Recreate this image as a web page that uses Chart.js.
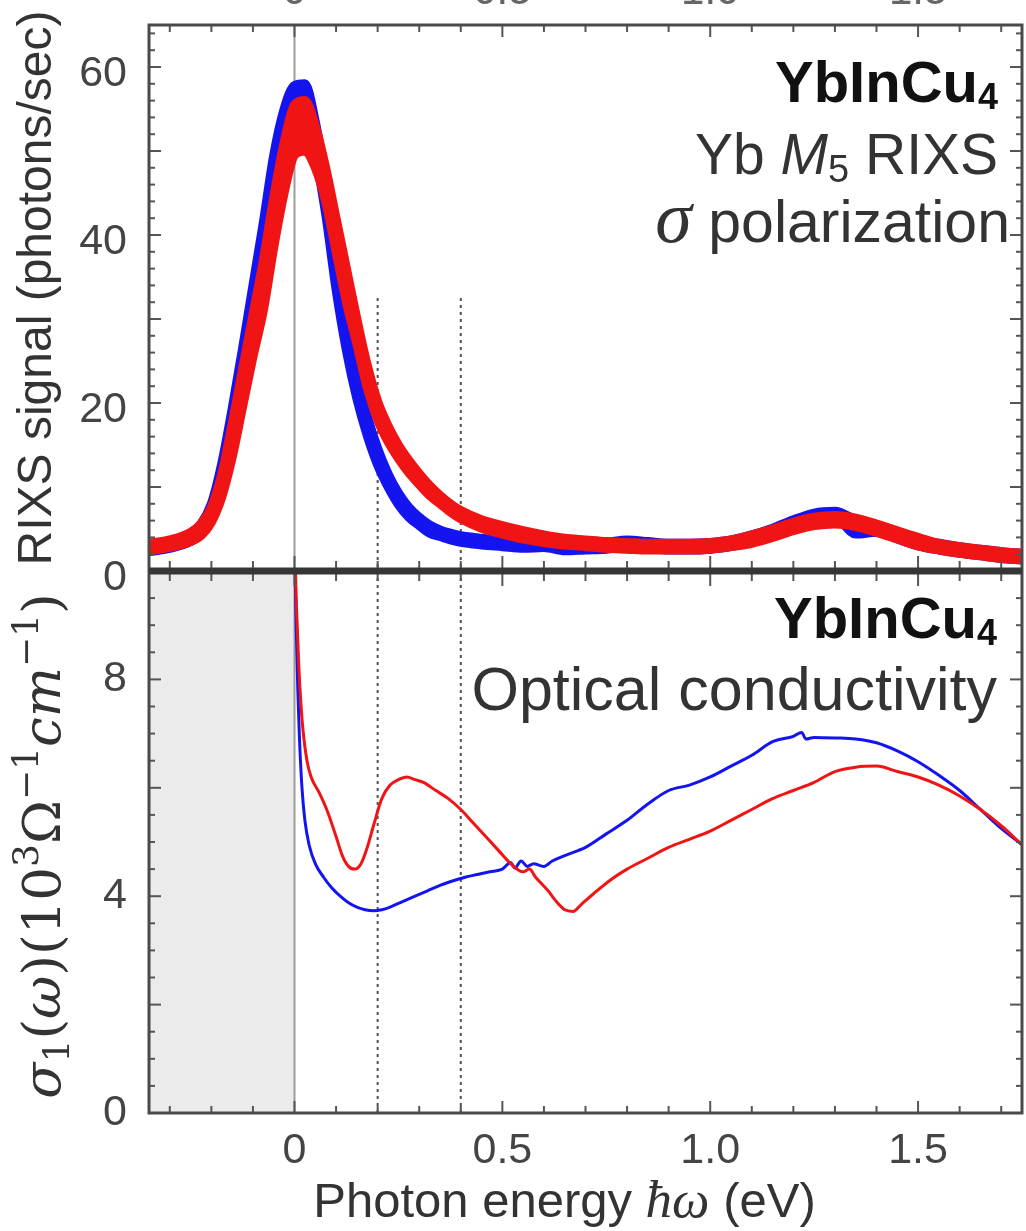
<!DOCTYPE html>
<html>
<head>
<meta charset="utf-8">
<script src="https://cdn.jsdelivr.net/npm/chart.js@4.4.1/dist/chart.umd.min.js"></script>
<style>
  html, body { margin: 0; padding: 0; background: #ffffff; }
  canvas { display: block; }
</style>
</head>
<body>
<canvas id="chart" width="1026" height="1231"></canvas>
<script>
// ---------- data ----------
// Photon-energy grid (eV) for the Yb M5 RIXS traces
const rixsEnergy = [
  -0.35, -0.30, -0.25, -0.225, -0.20, -0.175, -0.15, -0.125, -0.10, -0.075,
  -0.05, -0.025, 0.00, 0.025, 0.05, 0.075, 0.10, 0.125, 0.15, 0.175,
  0.20, 0.225, 0.25, 0.275, 0.30, 0.325, 0.35, 0.375, 0.40, 0.45,
  0.50, 0.55, 0.60, 0.65, 0.70, 0.75, 0.80, 0.85, 0.90, 0.95,
  1.00, 1.05, 1.10, 1.15, 1.20, 1.25, 1.30, 1.35, 1.40, 1.45,
  1.50, 1.55, 1.60, 1.65, 1.70, 1.75
];
// RIXS signal (photons/sec), three scans per temperature
const rixsRedUpper = [
  3.3, 3.7, 4.6, 5.6, 7.6, 11.5, 17.5, 24.0, 30.5, 37.0,
  44.5, 51.0, 55.5, 56.0, 53.0, 48.0, 42.0, 36.0, 30.0, 24.5,
  20.2, 17.3, 15.0, 13.2, 11.6, 10.2, 9.0, 8.0, 7.2, 6.1,
  5.4, 4.8, 4.3, 3.9, 3.7, 3.5, 3.4, 3.3, 3.3, 3.3,
  3.4, 3.7, 4.3, 5.0, 5.8, 6.4, 6.6, 6.3, 5.6, 4.8,
  4.0, 3.3, 2.9, 2.6, 2.3, 2.1
];
const rixsRedMiddle = [
  2.8, 3.2, 4.0, 4.8, 6.6, 10.0, 15.5, 22.0, 28.0, 34.0,
  41.5, 48.0, 52.5, 53.0, 50.5, 46.0, 40.0, 34.0, 28.5, 23.0,
  19.0, 16.3, 14.2, 12.4, 10.9, 9.6, 8.5, 7.5, 6.7, 5.6,
  4.9, 4.3, 3.8, 3.5, 3.3, 3.1, 3.0, 2.9, 2.9, 2.9,
  3.0, 3.3, 3.8, 4.5, 5.3, 5.9, 6.1, 5.8, 5.1, 4.3,
  3.5, 2.9, 2.5, 2.2, 1.9, 1.7
];
const rixsRedLower = [
  2.4, 2.8, 3.5, 4.2, 5.8, 8.8, 13.5, 19.5, 25.5, 31.0,
  38.5, 45.0, 49.5, 50.0, 48.0, 44.0, 38.0, 32.0, 27.0, 21.8,
  18.0, 15.4, 13.4, 11.7, 10.3, 9.0, 8.0, 7.0, 6.2, 5.1,
  4.4, 3.8, 3.4, 3.1, 2.9, 2.7, 2.6, 2.5, 2.5, 2.5,
  2.6, 2.9, 3.3, 4.0, 4.8, 5.4, 5.6, 5.3, 4.6, 3.8,
  3.0, 2.5, 2.1, 1.8, 1.5, 1.3
];
const rixsBlueUpper = [
  3.1, 3.5, 4.5, 5.6, 8.0, 12.8, 19.3, 26.5, 34.0, 41.5,
  49.5, 55.0, 57.8, 58.0, 53.5, 46.5, 37.5, 29.8, 23.5, 18.5,
  14.6, 11.6, 9.3, 7.6, 6.4, 5.5, 4.9, 4.5, 4.2, 3.9,
  3.7, 3.5, 3.6, 3.4, 3.3, 3.4, 3.7, 3.5, 3.3, 3.3,
  3.4, 3.7, 4.3, 5.1, 6.1, 6.9, 7.1, 6.1, 5.4, 4.6,
  3.8, 3.3, 2.9, 2.6, 2.3, 2.1
];
const rixsBlueMiddle = [
  2.7, 3.1, 4.0, 5.0, 7.2, 11.5, 17.5, 24.5, 32.0, 39.0,
  47.0, 53.0, 56.0, 56.0, 51.5, 44.5, 35.5, 28.0, 22.0, 17.3,
  13.6, 10.8, 8.6, 7.0, 5.9, 5.0, 4.5, 4.1, 3.8, 3.5,
  3.3, 3.1, 3.2, 2.9, 2.9, 3.0, 3.2, 3.1, 2.9, 2.9,
  3.0, 3.3, 3.9, 4.7, 5.6, 6.4, 6.7, 5.6, 5.0, 4.2,
  3.4, 2.9, 2.5, 2.2, 1.9, 1.7
];
const rixsBlueLower = [
  2.3, 2.7, 3.5, 4.4, 6.4, 10.2, 15.7, 22.5, 30.0, 36.5,
  44.5, 51.0, 54.0, 54.0, 49.5, 42.5, 33.5, 26.2, 20.5, 16.1,
  12.6, 10.0, 7.9, 6.4, 5.4, 4.5, 4.1, 3.7, 3.4, 3.1,
  2.9, 2.7, 2.8, 2.4, 2.5, 2.6, 2.8, 2.7, 2.5, 2.5,
  2.6, 2.9, 3.5, 4.3, 5.1, 5.9, 6.3, 4.4, 4.6, 3.8,
  3.0, 2.5, 2.1, 1.8, 1.5, 1.3
];

// Optical conductivity sigma_1 (10^3 Ohm^-1 cm^-1)
const sigmaEnergyRed = [
  0.000, 0.005, 0.010, 0.015, 0.020, 0.030, 0.040, 0.060, 0.080, 0.100,
  0.115, 0.130, 0.145, 0.160, 0.175, 0.190, 0.210, 0.230, 0.250, 0.270,
  0.290, 0.310, 0.340, 0.370, 0.400, 0.430, 0.460, 0.490, 0.520, 0.550,
  0.565, 0.580, 0.610, 0.630, 0.650, 0.670, 0.690, 0.720, 0.760, 0.800,
  0.850, 0.900, 0.950, 1.000, 1.050, 1.100, 1.150, 1.200, 1.250, 1.300,
  1.350, 1.400, 1.450, 1.500, 1.550, 1.600, 1.650, 1.700, 1.750
];
const sigmaRed = [
  10.6, 9.3, 8.3, 7.6, 7.1, 6.5, 6.2, 5.9, 5.55, 5.1,
  4.75, 4.55, 4.5, 4.6, 4.9, 5.3, 5.8, 6.05, 6.15, 6.2,
  6.15, 6.1, 5.95, 5.8, 5.6, 5.35, 5.1, 4.85, 4.6, 4.45,
  4.5, 4.35, 4.1, 3.9, 3.75, 3.72, 3.85, 4.05, 4.3, 4.5,
  4.7, 4.9, 5.05, 5.2, 5.4, 5.6, 5.8, 5.95, 6.1, 6.3,
  6.38, 6.4, 6.3, 6.2, 6.05, 5.85, 5.6, 5.3, 4.95
];
const sigmaEnergyBlue = [
  0.000, 0.004, 0.008, 0.012, 0.018, 0.025, 0.035, 0.050, 0.070, 0.090,
  0.110, 0.130, 0.150, 0.170, 0.190, 0.210, 0.230, 0.260, 0.290, 0.320,
  0.350, 0.380, 0.410, 0.440, 0.470, 0.500, 0.520, 0.530, 0.545, 0.560,
  0.575, 0.600, 0.620, 0.650, 0.700, 0.750, 0.800, 0.850, 0.900, 0.950,
  1.000, 1.050, 1.100, 1.150, 1.200, 1.220, 1.230, 1.250, 1.300, 1.350,
  1.400, 1.450, 1.500, 1.550, 1.600, 1.650, 1.700, 1.750
];
const sigmaBlue = [
  10.6, 9.0, 7.8, 6.9, 6.0, 5.4, 4.95, 4.6, 4.35, 4.15,
  4.0, 3.88, 3.8, 3.75, 3.73, 3.75, 3.8, 3.9, 4.0, 4.1,
  4.2, 4.28, 4.35, 4.4, 4.45, 4.5, 4.62, 4.52, 4.65, 4.55,
  4.6, 4.55, 4.65, 4.75, 4.9, 5.15, 5.4, 5.7, 5.95, 6.05,
  6.2, 6.4, 6.6, 6.85, 6.95, 7.02, 6.9, 6.93, 6.92, 6.9,
  6.83, 6.68, 6.48, 6.23, 5.95, 5.6, 5.25, 4.95
];

// Tick labels
const energyTicks = [0, 0.5, 1.0, 1.5];
const energyTickLabels = ['0', '0.5', '1.0', '1.5'];
const rixsTicks = [0, 20, 40, 60];
const sigmaTicks = [0, 4, 8];
// Energies of the dotted guide lines and the RIXS level where they start
const guideEnergies = [0.2, 0.4];
const guideTop = 32.5;

// ---------- styling ----------
const BLUE = '#1414f0';
const RED = '#f01414';
const SANS = '"Liberation Sans", "Helvetica Neue", Arial, sans-serif';
const SERIF = '"Liberation Serif", "Times New Roman", serif';
const MATH = '"DejaVu Serif", "Liberation Serif", serif';
const FRAME = '#4a4a4a';

const pts = (xs, ys) => xs.map((e, i) => ({ x: e, y: ys[i] }));

function drawRuns(ctx, runs, x, y, align) {
  let w = 0;
  for (const r of runs) { ctx.font = r.font; w += ctx.measureText(r.text).width; }
  let cx = align === 'right' ? x - w : align === 'center' ? x - w / 2 : x;
  ctx.textAlign = 'left';
  for (const r of runs) {
    ctx.font = r.font;
    ctx.fillStyle = r.color;
    ctx.fillText(r.text, cx, y + (r.dy || 0));
    cx += ctx.measureText(r.text).width;
  }
}

function seg(ctx, x1, y1, x2, y2) {
  ctx.beginPath(); ctx.moveTo(x1, y1); ctx.lineTo(x2, y2); ctx.stroke();
}

const panelPlugin = {
  id: 'panelDecor',
  beforeDatasetsDraw(chart) {
    const { ctx, chartArea: a } = chart;
    const { x, yRixs, ySigma } = chart.scales;
    const x0 = x.getPixelForValue(0);
    ctx.save();
    // shaded region below zero energy in the conductivity panel
    ctx.fillStyle = '#ebebeb';
    ctx.fillRect(a.left, ySigma.top, x0 - a.left, ySigma.bottom - ySigma.top);
    // zero-energy line through both panels
    ctx.strokeStyle = '#9c9c9c';
    ctx.lineWidth = 2;
    seg(ctx, x0, a.top, x0, a.bottom);
    // dotted guides
    ctx.strokeStyle = '#505050';
    ctx.setLineDash([3, 4]);
    for (const e of guideEnergies) {
      const px = x.getPixelForValue(e);
      seg(ctx, px, yRixs.getPixelForValue(guideTop), px, a.bottom);
    }
    ctx.restore();
  },
  beforeDatasetDraw(chart, args) {
    const { ctx, chartArea: a } = chart;
    const ys = args.meta.yScale;
    ctx.save();
    ctx.beginPath();
    ctx.rect(a.left, ys.top, a.right - a.left, ys.bottom - ys.top);
    ctx.clip();
  },
  afterDatasetDraw(chart) {
    chart.ctx.restore();
  },
  afterDatasetsDraw(chart) {
    const { ctx, chartArea: a } = chart;
    const { x, yRixs, ySigma } = chart.scales;
    ctx.save();

    // inward tick marks
    ctx.strokeStyle = '#555555';
    ctx.lineWidth = 2;
    const mid = yRixs.bottom;
    for (let k = -3; k <= 17; k++) {
      const px = x.getPixelForValue(k / 10);
      const len = k % 5 === 0 ? 12 : 7;
      seg(ctx, px, a.top, px, a.top + len);
      seg(ctx, px, a.bottom, px, a.bottom - len);
      seg(ctx, px, mid, px, mid - len - 3);
      seg(ctx, px, mid, px, mid + len + 3);
    }
    for (let k = 1; k <= 32; k++) {
      const v = 2 * k;
      const py = yRixs.getPixelForValue(v);
      const len = v % 10 === 0 ? 12 : 6;
      seg(ctx, a.left, py, a.left + len, py);
      seg(ctx, a.right, py, a.right - len, py);
    }
    for (let k = 1; k <= 19; k++) {
      const v = k / 2;
      const py = ySigma.getPixelForValue(v);
      const len = v % 2 === 0 ? 12 : 6;
      seg(ctx, a.left, py, a.left + len, py);
      seg(ctx, a.right, py, a.right - len, py);
    }

    // frame and the panel divider
    ctx.strokeStyle = FRAME;
    ctx.lineWidth = 3;
    ctx.strokeRect(a.left, a.top, a.right - a.left, a.bottom - a.top);
    ctx.strokeStyle = '#363636';
    ctx.lineWidth = 7;
    seg(ctx, a.left, mid, a.right, mid);

    // energy labels of the axis above, mostly outside the canvas
    ctx.fillStyle = '#666666';
    ctx.font = '42px ' + SANS;
    ctx.textAlign = 'center';
    ctx.textBaseline = 'alphabetic';
    energyTicks.forEach((v, i) => ctx.fillText(energyTickLabels[i], x.getPixelForValue(v), 4));

    // panel annotations
    const ink = '#111111', gray = '#333333';
    const r1 = a.right - 24;
    drawRuns(ctx, [
      { text: 'YbInCu', font: 'bold 58px ' + SANS, color: ink },
      { text: '4', font: 'bold 36px ' + SANS, color: ink, dy: 7 }
    ], r1, yRixs.top + 77, 'right');
    drawRuns(ctx, [
      { text: 'Yb ', font: '57px ' + SANS, color: gray },
      { text: 'M', font: 'italic 57px ' + SANS, color: gray },
      { text: '5', font: '38px ' + SANS, color: gray, dy: 8 },
      { text: ' RIXS', font: '57px ' + SANS, color: gray }
    ], r1, yRixs.top + 149, 'right');
    drawRuns(ctx, [
      { text: 'σ', font: 'italic 74px ' + SERIF, color: gray },
      { text: ' polarization', font: '59px ' + SANS, color: gray }
    ], a.right - 12, yRixs.top + 217, 'right');

    drawRuns(ctx, [
      { text: 'YbInCu', font: 'bold 58px ' + SANS, color: ink },
      { text: '4', font: 'bold 36px ' + SANS, color: ink, dy: 7 }
    ], a.right - 25, ySigma.top + 67, 'right');
    drawRuns(ctx, [
      { text: 'Optical conductivity', font: '61px ' + SANS, color: gray }
    ], a.right - 25, ySigma.top + 139, 'right');

    // x-axis title
    drawRuns(ctx, [
      { text: 'Photon energy ', font: '49px ' + SANS, color: gray },
      { text: 'ħω', font: 'italic 53px ' + SERIF, color: gray },
      { text: ' (eV)', font: '49px ' + SANS, color: gray }
    ], (a.left + a.right) / 2 - 21, a.bottom + 104, 'center');

    // y-axis titles, rotated
    ctx.save();
    ctx.translate(38, (yRixs.top + yRixs.bottom) / 2 - 10);
    ctx.rotate(-Math.PI / 2);
    ctx.textBaseline = 'middle';
    drawRuns(ctx, [{ text: 'RIXS signal (photons/sec)', font: '48px ' + SANS, color: gray }], 0, 0, 'center');
    ctx.restore();

    ctx.save();
    ctx.translate(60, (ySigma.top + ySigma.bottom) / 2 + 4);
    ctx.rotate(-Math.PI / 2);
    ctx.textBaseline = 'alphabetic';
    const up = '53px ' + MATH, it = 'italic 53px ' + MATH, small = '36px ' + MATH;
    drawRuns(ctx, [
      { text: 'σ', font: it, color: gray },
      { text: '1', font: small, color: gray, dy: 9 },
      { text: '(', font: up, color: gray },
      { text: 'ω', font: it, color: gray },
      { text: ')(10', font: up, color: gray },
      { text: '3', font: small, color: gray, dy: -22 },
      { text: 'Ω', font: up, color: gray },
      { text: '−1', font: small, color: gray, dy: -22 },
      { text: 'cm', font: it, color: gray },
      { text: '−1', font: small, color: gray, dy: -22 },
      { text: ')', font: up, color: gray }
    ], 0, 0, 'center');
    ctx.restore();

    ctx.restore();
  }
};

const thick = { borderWidth: 9, borderJoinStyle: 'round', borderCapStyle: 'round' };
const thin = { borderWidth: 3, borderJoinStyle: 'round' };
const noPad = s => { s.paddingTop = 0; s.paddingBottom = 0; s.paddingLeft = 0; s.paddingRight = 0; };

new Chart(document.getElementById('chart'), {
  type: 'line',
  data: {
    datasets: [
      { data: pts(sigmaEnergyRed, sigmaRed), yAxisID: 'ySigma', borderColor: RED, ...thin },
      { data: pts(sigmaEnergyBlue, sigmaBlue), yAxisID: 'ySigma', borderColor: BLUE, ...thin },
      // the spread between repeated scans is filled so each temperature reads as one band
      { data: pts(rixsEnergy, rixsRedUpper), yAxisID: 'yRixs', borderColor: RED, backgroundColor: RED, fill: '+2', ...thick },
      { data: pts(rixsEnergy, rixsRedMiddle), yAxisID: 'yRixs', borderColor: RED, ...thick },
      { data: pts(rixsEnergy, rixsRedLower), yAxisID: 'yRixs', borderColor: RED, ...thick },
      { data: pts(rixsEnergy, rixsBlueUpper), yAxisID: 'yRixs', borderColor: BLUE, backgroundColor: BLUE, fill: '+2', ...thick },
      { data: pts(rixsEnergy, rixsBlueMiddle), yAxisID: 'yRixs', borderColor: BLUE, ...thick },
      { data: pts(rixsEnergy, rixsBlueLower), yAxisID: 'yRixs', borderColor: BLUE, ...thick }
    ]
  },
  options: {
    responsive: false,
    animation: false,
    events: [],
    layout: { padding: { top: 25, right: 4, left: 0, bottom: 0 } },
    elements: {
      point: { radius: 0 },
      line: { cubicInterpolationMode: 'monotone', fill: false }
    },
    plugins: { legend: { display: false }, tooltip: { enabled: false }, title: { display: false } },
    scales: {
      x: {
        type: 'linear',
        min: -0.35,
        max: 1.75,
        grid: { display: false, drawTicks: false },
        border: { display: false },
        afterBuildTicks: s => { s.ticks = energyTicks.map(v => ({ value: v })); },
        afterFit: s => { s.height = 118; noPad(s); },
        ticks: {
          autoSkip: false,
          maxRotation: 0,
          padding: 12,
          color: '#444444',
          font: { family: SANS, size: 43 },
          callback: (v) => energyTickLabels[energyTicks.indexOf(v)]
        }
      },
      ySigma: {
        type: 'linear',
        position: 'left',
        stack: 'panels',
        stackWeight: 542,
        weight: 1,
        min: 0,
        max: 10,
        grid: { display: false, drawTicks: false },
        border: { display: false },
        afterBuildTicks: s => { s.ticks = sigmaTicks.map(v => ({ value: v })); },
        afterFit: s => { s.width = 149; noPad(s); },
        ticks: { autoSkip: false, padding: 22, color: '#444444', font: { family: SANS, size: 43 } }
      },
      yRixs: {
        type: 'linear',
        position: 'left',
        stack: 'panels',
        stackWeight: 546,
        weight: 2,
        min: 0,
        max: 65,
        grid: { display: false, drawTicks: false },
        border: { display: false },
        afterBuildTicks: s => { s.ticks = rixsTicks.map(v => ({ value: v })); },
        afterFit: s => { s.width = 149; noPad(s); },
        ticks: { autoSkip: false, padding: 22, labelOffset: 7, color: '#444444', font: { family: SANS, size: 43 } }
      }
    }
  },
  plugins: [panelPlugin]
});
</script>
</body>
</html>
